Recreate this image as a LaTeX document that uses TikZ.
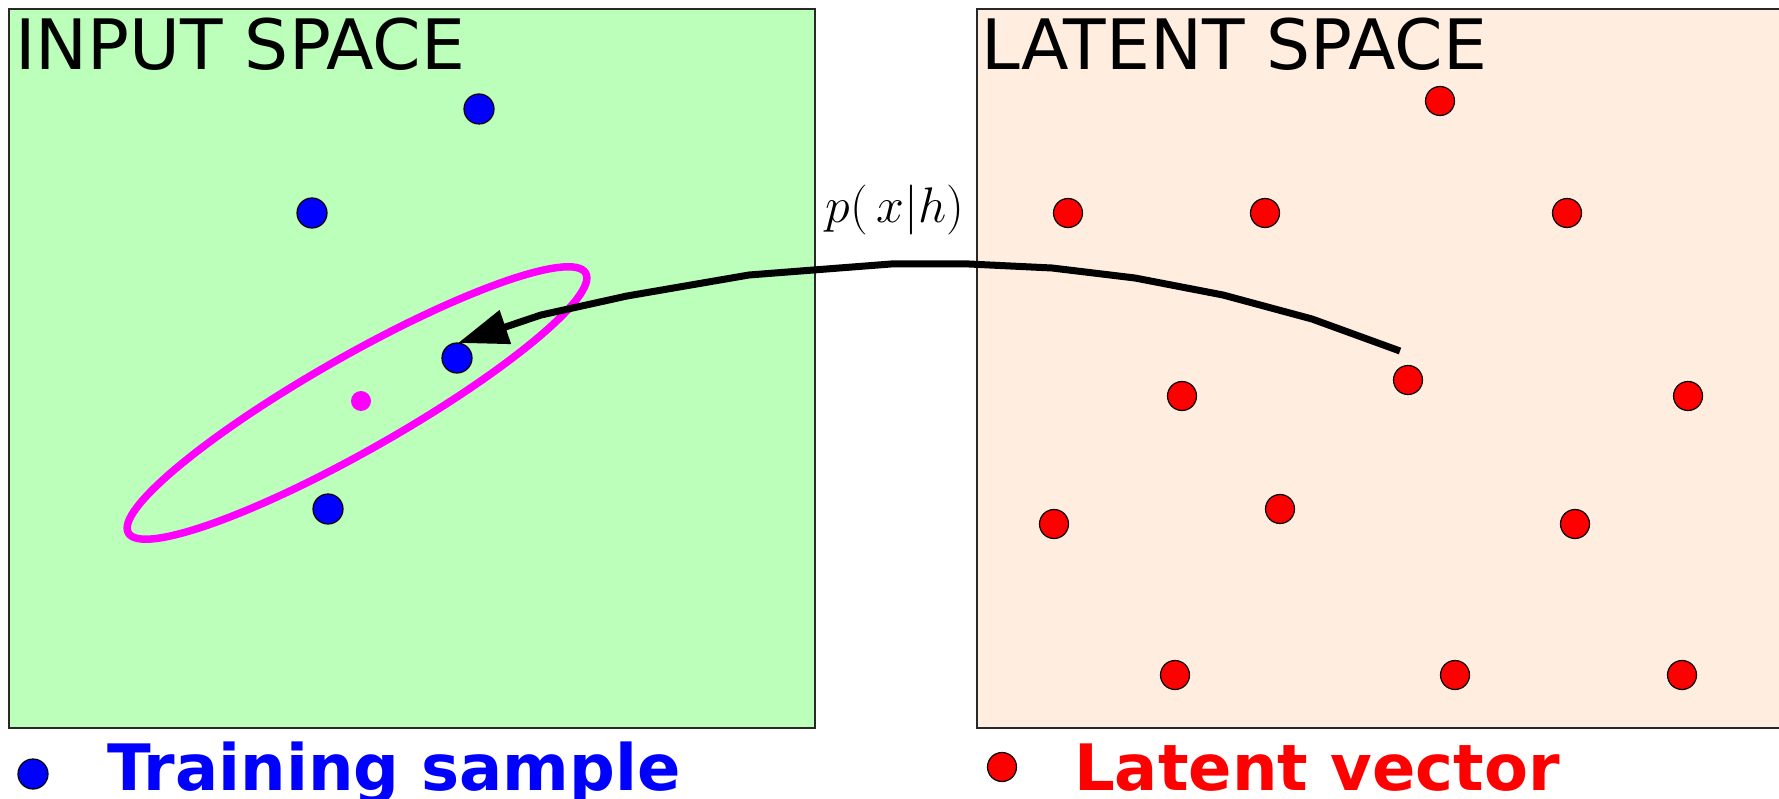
\documentclass[tikz,border=0pt]{standalone}
\usepackage{fix-cm}
\usepackage{fontspec}
\setmainfont{DejaVu Sans}
\usetikzlibrary{arrows.meta}
\definecolor{inputbg}{RGB}{187,255,187}
\definecolor{latentbg}{RGB}{255,237,224}
\definecolor{sampleblue}{RGB}{0,0,255}
\definecolor{latentred}{RGB}{255,0,0}
\definecolor{meanmag}{RGB}{255,0,255}
\definecolor{boxline}{RGB}{40,40,40}
\tikzset{
  spacebox/.style={draw=boxline, line width=1.5pt},
  bluedot/.style={circle, draw=black, line width=1.2pt, fill=sampleblue, minimum size=30pt, inner sep=0pt},
  reddot/.style={circle, draw=black, line width=1.2pt, fill=latentred, minimum size=29pt, inner sep=0pt},
  magdot/.style={circle, fill=meanmag, minimum size=20pt, inner sep=0pt},
  titletext/.style={anchor=base west, inner sep=0pt, font=\fontsize{69.5}{80}\selectfont},
  legendtext/.style={anchor=base west, inner sep=0pt, font=\fontsize{64}{74}\selectfont\bfseries},
  decoder/.style={line width=7pt, -{Triangle[length=50pt,width=34pt]}},
}
\begin{document}
\begin{tikzpicture}[x=1pt,y=-1pt]
\useasboundingbox (0,0) rectangle (1779,799);
\clip (0,0) rectangle (1779,799);
% boxes
\draw[spacebox, fill=inputbg] (9,9) rectangle (815,728);
\draw[spacebox, fill=latentbg] (977,9) rectangle (1800,728);
\node[titletext] (tin) at (15,70) {INPUT SPACE};
\node[titletext] (tlat) at (981,70) {LATENT SPACE};
% input space
\node[bluedot] (b1) at (479,109) {};
\node[bluedot] (b2) at (312,213) {};
\node[bluedot] (b3) at (457,358) {};
\node[bluedot] (b4) at (328,509) {};
\draw[meanmag, line width=7.5pt, rotate around={29.6:(357,403)}] (357,403) ellipse [x radius=263, y radius=47];
\node[magdot] (mu) at (361,401) {};
% latent space
\node[reddot] (r1) at (1440,101) {};
\node[reddot] (r2) at (1068,213) {};
\node[reddot] (r3) at (1265,213) {};
\node[reddot] (r4) at (1567,213) {};
\node[reddot] (r5) at (1182,396) {};
\node[reddot] (r6) at (1408,380) {};
\node[reddot] (r7) at (1688,396) {};
\node[reddot] (r8) at (1054,524) {};
\node[reddot] (r9) at (1280,509) {};
\node[reddot] (r10) at (1575,524) {};
\node[reddot] (r11) at (1175,675) {};
\node[reddot] (r12) at (1455,675) {};
\node[reddot] (r13) at (1682,675) {};
% decoder arrow
\coordinate (start) at (1400,351);
\coordinate (tip) at (458,343);
\draw[decoder] (start) -- (1312,319) -- (1223,295) -- (1135,278) -- (1052,268) -- (969,264) -- (891,264) -- (749,275) -- (627,296) -- (541,315) -- (tip);
\node[anchor=base, inner sep=0pt, font=\fontsize{50}{56}\selectfont] (plabel) at (895,223) {$p(\,x|h)$};
% legend
\node[bluedot] (lb) at (33,774) {};
\node[legendtext, text=sampleblue] (lbt) at (107,790) {Training sample};
\node[reddot] (lr) at (1002,767) {};
\node[legendtext, text=latentred] (lrt) at (1074,790) {Latent vector};
\end{tikzpicture}
\end{document}
